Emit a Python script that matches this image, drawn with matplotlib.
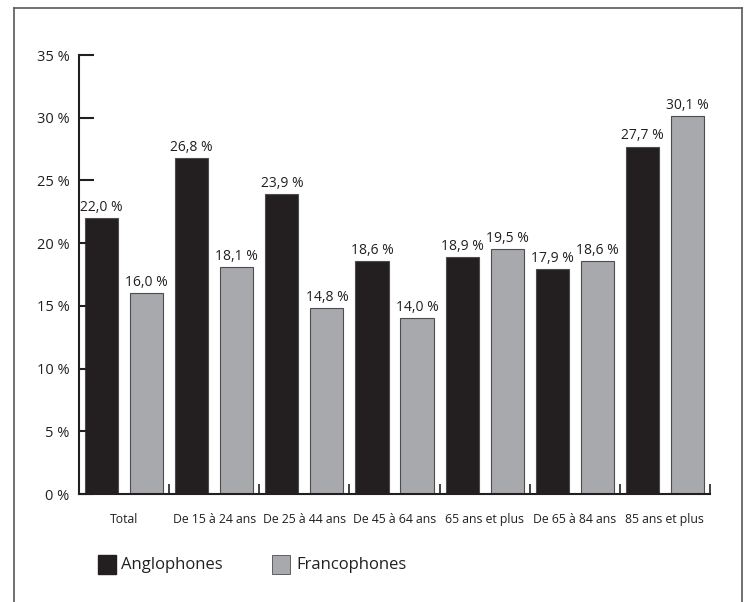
import matplotlib
matplotlib.use("Agg")
import matplotlib.pyplot as plt
import numpy as np
from matplotlib.lines import Line2D
from matplotlib.patches import Rectangle

categories = ["Total", "De 15 à 24 ans", "De 25 à 44 ans", "De 45 à 64 ans",
              "65 ans et plus", "De 65 à 84 ans", "85 ans et plus"]
anglophones = [22.0, 26.8, 23.9, 18.6, 18.9, 17.9, 27.7]
francophones = [16.0, 18.1, 14.8, 14.0, 19.5, 18.6, 30.1]
yticks = [0, 5, 10, 15, 20, 25, 30, 35]

dark = "#231f20"
grey = "#a7a9ac"
edge = "#4d4d4f"

plt.rcParams["font.family"] = ["Open Sans", "DejaVu Sans"]

fig = plt.figure(figsize=(7.46, 6.02), dpi=100)
ax = fig.add_axes([79 / 746, 108 / 602, 631 / 746, 439 / 602])

x = np.arange(len(categories))
w = 0.367
ax.bar(x + 0.25, anglophones, w, color=dark, edgecolor=edge, linewidth=0.8)
ax.bar(x + 0.75, francophones, w, color=grey, edgecolor=edge, linewidth=0.8)

def fmt(v):
    return f"{v:.1f}".replace(".", ",") + " %"

for i in x:
    ax.text(i + 0.25, anglophones[i] + 0.25, fmt(anglophones[i]),
            ha="center", va="bottom", fontsize=10, color="#231f20")
    ax.text(i + 0.75, francophones[i] + 0.25, fmt(francophones[i]),
            ha="center", va="bottom", fontsize=10, color="#231f20")

ax.set_xlim(0, len(categories))
ax.set_ylim(0, 35)

for s in ["top", "right"]:
    ax.spines[s].set_visible(False)
for s in ["left", "bottom"]:
    ax.spines[s].set_linewidth(1.5)
    ax.spines[s].set_color("#231f20")

ax.set_yticks(yticks)
ax.set_yticklabels([f"{t} %" for t in yticks], fontsize=10.5, color="#231f20")
ax.tick_params(axis="y", direction="in", length=11, width=1.5, pad=7,
               color="#231f20")

# group labels at centres, small marks at every bar boundary
ax.set_xticks(x + 0.5)
ax.set_xticklabels(categories, fontsize=8.8, color="#231f20")
ax.tick_params(axis="x", which="major", length=0, pad=14)
ax.set_xticks(np.arange(0.5, len(categories) + 0.01, 0.5), minor=True)
ax.tick_params(axis="x", which="minor", direction="in", length=7, width=1.2,
               color="#231f20")

# legend
fig.patches.append(Rectangle((98 / 746, 1 - 574 / 602), 18 / 746, 19 / 602,
                             transform=fig.transFigure, color=dark))
fig.text(121 / 746, 1 - 565 / 602, "Anglophones", fontsize=12,
         va="center", color="#231f20")
fig.patches.append(Rectangle((272 / 746, 1 - 574 / 602), 18 / 746, 19 / 602,
                             transform=fig.transFigure, facecolor=grey,
                             edgecolor=edge, linewidth=0.6))
fig.text(296 / 746, 1 - 565 / 602, "Francophones", fontsize=12,
         va="center", color="#231f20")

# frame around the figure (open at the bottom)
bx0, bx1, by = 14 / 746, 742 / 746, 1 - 8 / 602
for xs, ys in [([bx0, bx0], [0, by]), ([bx0, bx1], [by, by]), ([bx1, bx1], [by, 0])]:
    fig.lines.append(Line2D(xs, ys, transform=fig.transFigure,
                            color="#58595b", linewidth=1.2))

fig.savefig("out.png", dpi=100)
